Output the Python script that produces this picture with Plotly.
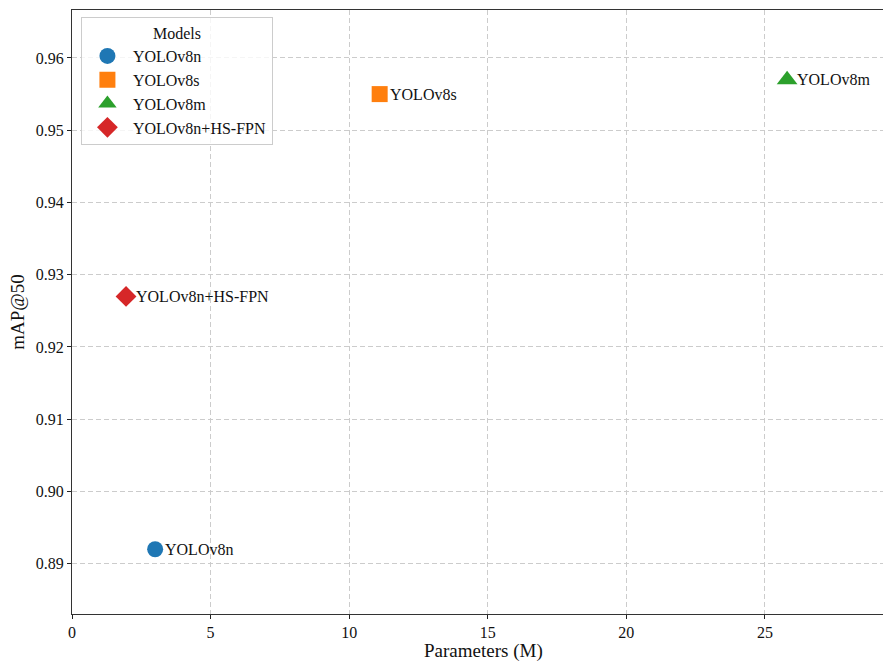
import plotly.graph_objects as go

# Model comparison: parameter count vs. detection accuracy
models = ["YOLOv8n", "YOLOv8s", "YOLOv8m", "YOLOv8n+HS-FPN"]
params_m = [3.0, 11.1, 25.8, 1.95]
map50 = [0.892, 0.955, 0.957, 0.927]
symbols = ["circle", "square", "triangle-up", "diamond"]
colors = ["#1f77b4", "#ff7f0e", "#2ca02c", "#d62728"]
sizes = [16, 16, 18, 16]

x_ticks = [0, 5, 10, 15, 20, 25]
y_ticks = [0.89, 0.90, 0.91, 0.92, 0.93, 0.94, 0.95, 0.96]

FONT = "Liberation Serif, Times New Roman, serif"

fig = go.Figure()
for name, x, y, sym, col, sz in zip(models, params_m, map50, symbols, colors, sizes):
    fig.add_trace(go.Scatter(
        x=[x], y=[y], mode="markers", name=name,
        marker=dict(symbol=sym, color=col, size=sz, line=dict(width=0)),
    ))
    fig.add_annotation(
        x=x, y=y, text=name, showarrow=False,
        xanchor="left", yanchor="middle", xshift=8,
        font=dict(family=FONT, size=16, color="#111111"),
    )

# x-axis title, placed just above the bottom edge of the page
fig.add_annotation(
    x=0.508, y=0, xref="paper", yref="paper", text="Parameters (M)",
    showarrow=False, xanchor="center", yanchor="bottom", yshift=-48,
    borderpad=0, borderwidth=0,
    font=dict(family=FONT, size=19, color="#111111"),
)

grid = dict(showgrid=True, gridcolor="#cccccc", griddash="5px,3px", gridwidth=1)

fig.update_layout(
    width=883, height=662,
    margin=dict(l=72, r=0, t=10, b=48),
    paper_bgcolor="white", plot_bgcolor="white",
    font=dict(family=FONT, size=16, color="#111111"),
    showlegend=True,
    legend=dict(
        title=dict(text="Models", side="top center", font=dict(size=16)),
        x=0.011, y=0.988, xanchor="left", yanchor="top",
        bgcolor="rgba(255,255,255,0.8)", bordercolor="#cccccc", borderwidth=1,
        font=dict(size=16), itemsizing="trace", itemwidth=41,
    ),
    xaxis=dict(
        range=[0, 29.26], tickvals=x_ticks, ticks="outside", ticklen=3.5,
        tickwidth=1, tickcolor="#222222", showline=True, linecolor="#333333",
        linewidth=1.2, mirror=True, zeroline=False, automargin=False,
        **grid,
    ),
    yaxis=dict(
        range=[0.88304, 0.96664], tickvals=y_ticks, tickformat=".2f",
        ticks="outside", ticklen=4, tickwidth=1, tickcolor="#222222",
        showline=True, linecolor="#333333", linewidth=1.2, mirror=False,
        zeroline=False, automargin=False,
        title=dict(text="mAP@50", font=dict(size=19), standoff=6),
        **grid,
    ),
)

fig.write_html("out.html")
